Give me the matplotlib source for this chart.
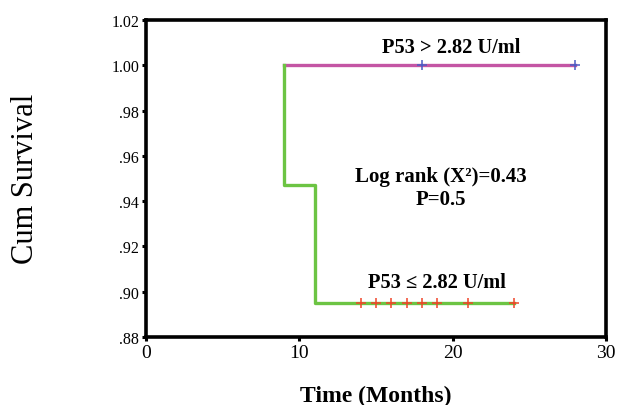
import numpy as np
import matplotlib.pyplot as plt

plt.rcParams['font.family'] = ['Liberation Serif', 'DejaVu Serif']

# survival curves (Kaplan-Meier), P53 <= 2.82 and P53 > 2.82
low_t = [9, 9, 11, 24]
low_s = [1.0, 0.947, 0.895, 0.895]
low_cens = [14, 15, 16, 17, 18, 19, 21, 24]

high_t = [9, 28]
high_s = [1.0, 1.0]
high_cens = [18, 28]

yticks = [0.88, 0.90, 0.92, 0.94, 0.96, 0.98, 1.00, 1.02]
ylabels = ['.88', '.90', '.92', '.94', '.96', '.98', '1.00', '1.02']
xticks = [0, 10, 20, 30]

fig = plt.figure(figsize=(6.27, 4.06), dpi=100)
ax = fig.add_axes([0.2329, 0.1675, 0.7336, 0.7808])

ax.plot(high_t, high_s, drawstyle='steps-post', color='#c455a4', lw=2.4, zorder=3)
ax.plot(low_t, low_s, drawstyle='steps-post', color='#6cc443', lw=2.4, zorder=3)

ax.plot(high_cens, [1.0] * len(high_cens), '+', color='#4a5cc4', ms=7, mew=1.1, zorder=4)
ax.plot(low_cens, [0.895] * len(low_cens), '+', color='#f0452a', ms=7, mew=1.1, zorder=4)

ax.set_xlim(0, 30)
ax.set_ylim(0.88, 1.02)
ax.set_xticks(xticks)
ax.set_xticklabels([str(t) for t in xticks], fontsize=14)
ax.set_yticks(yticks)
ax.set_yticklabels(ylabels, fontsize=11.5)
ax.tick_params(direction='out', length=3, width=2.2, pad=2)

for s in ax.spines.values():
    s.set_linewidth(2.6)

ax.set_xlabel('Time (Months)', fontsize=17, fontweight='bold', labelpad=17)
fig.text(0.041, 0.56, 'Cum Survival', rotation=90, fontsize=22, ha='center', va='center')

ax.text(19.9, 1.0035, 'P53 > 2.82 U/ml', fontsize=14.7, fontweight='bold', ha='center', va='bottom')
ax.text(19.2, 0.951, 'Log rank (X²)=0.43', fontsize=15, fontweight='bold', ha='center', va='center')
ax.text(19.2, 0.941, 'P=0.5', fontsize=15, fontweight='bold', ha='center', va='center')
ax.text(19.0, 0.9, 'P53 ≤ 2.82 U/ml', fontsize=14.7, fontweight='bold', ha='center', va='bottom')

plt.savefig('out.png', dpi=100)
